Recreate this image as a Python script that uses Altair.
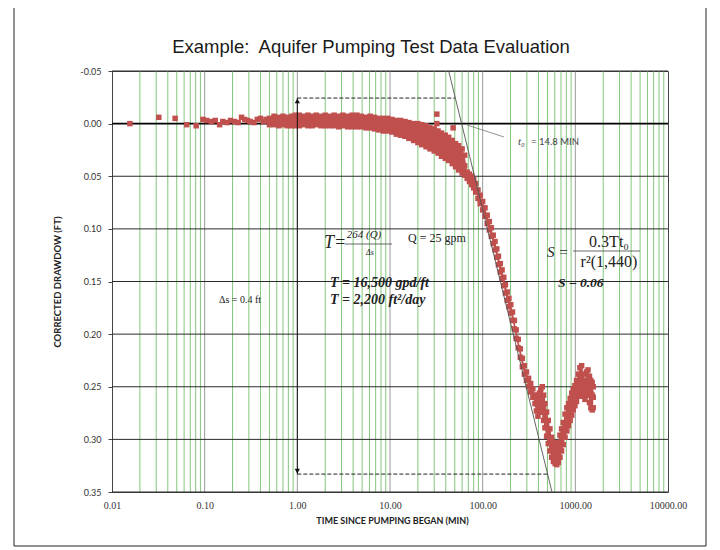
import altair as alt
import pandas as pd

W, H = 556, 421

# ---------------- data ----------------
early_t = [0.0156, 0.032, 0.048, 0.064, 0.081, 0.096, 0.105, 0.118, 0.13, 0.145, 0.157, 0.175,
           0.19, 0.21, 0.23, 0.25, 0.27, 0.29, 0.31, 0.34, 0.37, 0.40, 0.43, 0.46]
early_s = [0.000, -0.006, -0.005, 0.001, 0.002, -0.004, -0.003, -0.002, -0.003, 0.001, -0.002, -0.001,
           -0.003, -0.002, -0.001, -0.006, -0.004, -0.003, -0.002, -0.001, -0.004, -0.005, -0.002, -0.004]

band_t = [0.5, 0.56, 0.63, 0.7, 0.78, 0.87, 0.95, 1.05, 1.15, 1.3, 1.45, 1.6, 1.8, 2.0, 2.25, 2.5,
          2.8, 3.1, 3.5, 3.9, 4.4, 4.9, 5.5, 6.1, 6.8, 7.6, 8.5, 9.5, 10.5, 11.7, 13, 14.5, 16, 18,
          20, 22, 24.5, 27, 30, 33, 36, 39.5, 43, 47, 51, 55, 60, 64]
band_upper = [-0.005, -0.007, -0.006, -0.007, -0.006, -0.007, -0.008, -0.008, -0.007, -0.008, -0.007,
              -0.008, -0.007, -0.008, -0.007, -0.008, -0.007, -0.008, -0.007, -0.008, -0.008, -0.007,
              -0.006, -0.007, -0.006, -0.005, -0.005, -0.005, -0.004, -0.003, -0.003, -0.002, -0.001,
              0.000, 0.000, 0.001, 0.002, 0.004, 0.005, 0.007, 0.009, 0.011, 0.013, 0.016, 0.019,
              0.021, 0.024, 0.030]
band_mid = [-0.002, -0.003, -0.002, -0.003, -0.002, -0.003, -0.003, -0.003, -0.003, -0.003, -0.002,
            -0.003, -0.003, -0.003, -0.002, -0.003, -0.003, -0.003, -0.002, -0.003, -0.002, -0.002,
            -0.001, -0.001, -0.001, 0.000, 0.001, 0.001, 0.002, 0.003, 0.004, 0.005, 0.006, 0.008,
            0.009, 0.010, 0.012, 0.014, 0.016, 0.018, 0.020, 0.022, 0.024, 0.027, 0.030, 0.033,
            0.036, 0.040]
band_lower = [0.001, 0.001, 0.002, 0.001, 0.002, 0.002, 0.002, 0.002, 0.001, 0.002, 0.002, 0.001,
              0.002, 0.002, 0.002, 0.002, 0.003, 0.002, 0.003, 0.003, 0.003, 0.003, 0.004, 0.004,
              0.005, 0.006, 0.007, 0.007, 0.008, 0.010, 0.011, 0.012, 0.014, 0.016, 0.018, 0.020,
              0.022, 0.024, 0.026, 0.028, 0.031, 0.033, 0.035, 0.038, 0.041, 0.044, 0.047, 0.049]

outlier_t = [32, 32, 48]
outlier_s = [-0.009, 0.000, 0.004]

steep_t = [68, 72, 76, 80, 84, 89, 94, 100, 106, 112, 118, 124, 130, 136, 142, 148, 155, 162, 169,
           176, 184, 192, 201, 210, 220, 230, 242, 255, 268, 282, 297, 313, 330, 348, 367]
steep_s = [0.046, 0.048, 0.050, 0.053, 0.057, 0.063, 0.068, 0.074, 0.080, 0.087, 0.093, 0.099,
           0.106, 0.112, 0.119, 0.126, 0.133, 0.139, 0.146, 0.153, 0.160, 0.166, 0.172, 0.179,
           0.187, 0.196, 0.205, 0.214, 0.223, 0.230, 0.236, 0.242, 0.247, 0.252, 0.258]
steep_s_low = [0.052, 0.055, 0.058, 0.061, 0.065, 0.071, 0.076, 0.082, 0.088, 0.095, 0.101, 0.107,
               0.114, 0.120, 0.127, 0.134, 0.141, 0.147, 0.154, 0.161, 0.168, 0.174, 0.180, 0.187,
               0.195, 0.204, 0.213, 0.222, 0.231, 0.238, 0.244, 0.250, 0.255, 0.260, 0.266]

late_t = [380, 395, 410, 425, 440, 455, 470, 490, 510, 532, 555, 580, 605, 630, 655, 683, 710, 740,
          775, 810, 845, 880, 915, 950, 990, 1030, 1075, 1120, 1170, 1220, 1270, 1320, 1370, 1420,
          1470, 1520, 1560]
late_upper = [0.258, 0.262, 0.256, 0.252, 0.250, 0.258, 0.266, 0.274, 0.282, 0.290, 0.298, 0.303,
              0.305, 0.305, 0.303, 0.296, 0.290, 0.284, 0.276, 0.270, 0.266, 0.261, 0.256, 0.252,
              0.249, 0.244, 0.238, 0.232, 0.230, 0.238, 0.244, 0.236, 0.234, 0.240, 0.244, 0.246, 0.250]
late_mid = [0.266, 0.270, 0.265, 0.262, 0.262, 0.270, 0.277, 0.285, 0.293, 0.300, 0.307, 0.312,
            0.314, 0.314, 0.313, 0.307, 0.300, 0.294, 0.287, 0.281, 0.276, 0.271, 0.266, 0.262,
            0.258, 0.254, 0.248, 0.243, 0.242, 0.248, 0.252, 0.246, 0.245, 0.252, 0.256, 0.258, 0.260]
late_lower = [0.273, 0.278, 0.274, 0.272, 0.274, 0.282, 0.289, 0.297, 0.304, 0.311, 0.317, 0.321,
              0.323, 0.324, 0.322, 0.317, 0.311, 0.305, 0.298, 0.292, 0.287, 0.282, 0.277, 0.272,
              0.268, 0.264, 0.259, 0.254, 0.255, 0.259, 0.262, 0.258, 0.258, 0.265, 0.270, 0.272, 0.270]

# straight-line fit and construction lines
fit_t = [43, 560]
fit_s = [-0.05, 0.35]
delta_top_t = [1.0, 50]
delta_top_s = [-0.0243, -0.0243]
delta_bot_t = [1.0, 520]
delta_bot_s = [0.333, 0.333]
leader_t = [67.8, 170]
leader_s = [0.0013, 0.0127]

x_ticks = [0.01, 0.1, 1, 10, 100, 1000, 10000]
y_ticks = [-0.05, 0.0, 0.05, 0.10, 0.15, 0.20, 0.25, 0.30, 0.35]

# ---------------- frames ----------------
pts = pd.DataFrame({
    "t": early_t + band_t * 3 + outlier_t + steep_t * 2 + late_t * 3,
    "s": early_s + band_upper + band_mid + band_lower + outlier_s + steep_s + steep_s_low
         + late_upper + late_mid + late_lower,
})
fill_df = pd.DataFrame({
    "t": band_t + steep_t + late_t,
    "lo": band_upper + steep_s + late_upper,
    "hi": band_lower + steep_s_low + late_lower,
})
minor = [m * d for d in x_ticks[:-1] for m in range(2, 10)]
one = pd.DataFrame({"a": [0]})

xs = alt.Scale(type="log", domain=[0.01, 10000], nice=False)
ys = alt.Scale(domain=[-0.05, 0.35], reverse=True, nice=False, zero=False)

X_AX = alt.Axis(values=x_ticks, format=".2f", grid=False, ticks=False, domain=False,
                labelFont="Liberation Serif", labelFontSize=10, labelColor="#333", labelPadding=8,
                labelFlush=False, labelOverlap=False,
                title="TIME SINCE PUMPING BEGAN (MIN)", titleFont="Lato",
                titleFontSize=9, titleFontWeight="bold", titleColor="#222",
                titleX=W / 2 + 2, titleY=28, titleBaseline="middle")
Y_AX = alt.Axis(values=y_ticks, grid=False, ticks=True, tickSize=4, tickColor="#444",
                domain=False,
                labelExpr="replace(format(datum.value, '.2f'), '\u2212', '-')",
                labelFont="Lato", labelFontSize=9, labelColor="#333", labelPadding=7,
                labelOverlap=False, labelFlush=False,
                title="CORRECTED DRAWDOW (FT)", titleFont="Lato", titleFontSize=9.5,
                titleFontWeight="bold", titleColor="#222",
                titleX=-55, titleY=H / 2, titleBaseline="middle")


def X(f):
    return alt.X(f, scale=xs, axis=X_AX)


def Y(f):
    return alt.Y(f, scale=ys, axis=Y_AX)


RED = "#c0504d"

green = alt.Chart(pd.DataFrame({"g": minor})).mark_rule(color="#84c67c", strokeWidth=1).encode(
    x=X("g:Q"))
decade = alt.Chart(pd.DataFrame({"g": x_ticks[1:-1]})).mark_rule(color="#9a9a9a", strokeWidth=1).encode(
    x=X("g:Q"))
hl = alt.Chart(pd.DataFrame({"h": [v for v in y_ticks if v != 0.0]})).mark_rule(
    color="#2a2a2a", strokeWidth=1).encode(y=Y("h:Q"))
zero = alt.Chart(pd.DataFrame({"h": [0.0]})).mark_rule(color="#000000", strokeWidth=1.8).encode(
    y=Y("h:Q"))

fill = alt.Chart(fill_df).mark_area(color=RED, opacity=1).encode(
    x=X("t:Q"), y=Y("lo:Q"), y2="hi:Q")
points = alt.Chart(pts).mark_square(size=30, color=RED, opacity=1).encode(
    x=X("t:Q"), y=Y("s:Q"))


def line(tv, sv, **kw):
    df = pd.DataFrame({"t": tv, "s": sv})
    return alt.Chart(df).mark_line(**kw).encode(x=X("t:Q"), y=Y("s:Q"))


fit = line(fit_t, fit_s, color="#555", strokeWidth=0.9)
dtop = line(delta_top_t, delta_top_s, color="#222", strokeWidth=1, strokeDash=[4, 2])
dbot = line(delta_bot_t, delta_bot_s, color="#222", strokeWidth=1, strokeDash=[4, 2])
leader = line(leader_t, leader_s, color="#777", strokeWidth=0.8)

arrow_df = pd.DataFrame({"t": [1.0], "s1": [delta_top_s[0]], "s2": [delta_bot_s[0]]})
arrow = alt.Chart(arrow_df).mark_rule(color="#111", strokeWidth=1).encode(
    x=X("t:Q"), y=Y("s1:Q"), y2="s2:Q")
head_up = alt.Chart(arrow_df).mark_point(shape="triangle-up", filled=True, size=28, color="#111",
                                          opacity=1, yOffset=3).encode(x=X("t:Q"), y=Y("s1:Q"))
head_dn = alt.Chart(arrow_df).mark_point(shape="triangle-down", filled=True, size=28, color="#111",
                                          opacity=1, yOffset=-3).encode(x=X("t:Q"), y=Y("s2:Q"))


def txt(s, x, y, size, font="Liberation Serif", style="normal", weight="normal", align="left",
        color="#222"):
    return alt.Chart(one).mark_text(text=s, fontSize=size, font=font, fontStyle=style,
                                    fontWeight=weight, align=align, baseline="middle",
                                    color=color).encode(x=alt.value(x), y=alt.value(y))


def bar(x1, x2, y):
    return alt.Chart(one).mark_rule(color="#444", strokeWidth=0.8).encode(
        x=alt.value(x1), x2=alt.value(x2), y=alt.value(y))


texts = [
    txt("Example:\u00a0 Aquifer Pumping Test Data Evaluation", 259, -24, 18.5,
        font="Liberation Sans", align="center", color="#1a1a1a"),
    txt("t\u2080", 406, 71, 11, style="italic", color="#444"),
    txt("= 14.8 MIN", 419, 71, 9.5, font="Lato", color="#444"),
    txt("\u0394s = 0.4 ft", 128, 229, 10, align="center"),
    txt("T=", 212, 172, 18, style="italic"),
    txt("264 (Q)", 252, 164, 11, style="italic", align="center"),
    bar(233, 280, 173),
    txt("\u0394s", 258, 182, 8, style="italic", align="center"),
    txt("Q = 25 gpm", 325, 167, 12, align="center"),
    txt("T = 16,500 gpd/ft", 218, 212, 14, style="italic", weight="bold"),
    txt("T = 2,200 ft\u00b2/day", 218, 229, 14, style="italic", weight="bold"),
    txt("S =", 435, 181, 15, style="italic"),
    txt("0.3Tt\u2080", 497, 171, 16, align="center"),
    bar(461, 528, 180),
    txt("r\u00b2(1,440)", 497, 191, 16, align="center"),
    txt("S = 0.06", 446, 212, 13.5, style="italic", weight="bold"),
]

frame = alt.Chart(one).mark_rect(fillOpacity=0, stroke="#222", strokeWidth=1).encode(
    x=alt.value(-98), x2=alt.value(594), y=alt.value(-64), y2=alt.value(475))

chart = alt.layer(
    frame, green, decade, hl, zero, fill, points, fit, dtop, dbot, leader, arrow, head_up, head_dn,
    *texts
).properties(
    width=W, height=H,
    autosize=alt.AutoSizeParams(type="none"),
    padding={"left": 104, "top": 63, "right": 44, "bottom": 58},
    background="white",
).configure_view(stroke="#444", strokeWidth=1)

chart.save("out.html", embed_options={"renderer": "svg", "actions": False})
